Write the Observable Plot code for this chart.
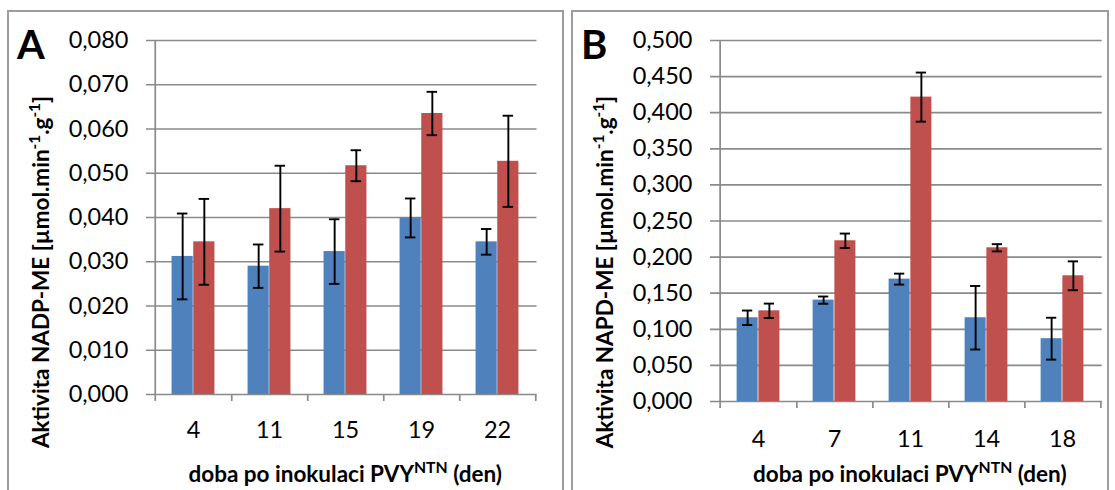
<!DOCTYPE html>
<html>
<head>
<meta charset="utf-8">
<script src="https://cdn.jsdelivr.net/npm/d3@7"></script>
<script src="https://cdn.jsdelivr.net/npm/@observablehq/plot@0.6"></script>
<style>
  body { margin: 0; background: #fff; }
  #wrap { position: relative; width: 1115px; height: 490px; overflow: hidden; font-family: Lato, sans-serif; }
  .panel { position: absolute; top: 10px; height: 600px; border: 2px solid #9c9c9c; box-sizing: border-box; }
  .chart { position: absolute; top: 0; }
</style>
</head>
<body>
<div id="wrap">
  <div class="panel" style="left:7px;width:557px;"></div>
  <div class="panel" style="left:571px;width:538px;"></div>
</div>
<script>
// ---------- DATA ----------
const seriesNames = ["kontrola", "PVY NTN"];
const seriesColors = ["#4F81BD", "#C0504D"];

// Panel A – NADP-ME
const daysA = ["4", "11", "15", "19", "22"];
const controlA = [0.0312, 0.0290, 0.0323, 0.0399, 0.0345];
const controlErrA = [0.0097, 0.0049, 0.0073, 0.0044, 0.0029];
const pvyA = [0.0345, 0.0420, 0.0517, 0.0635, 0.0527];
const pvyErrA = [0.0097, 0.0097, 0.0035, 0.0049, 0.0103];
const yTicksA = [0, 0.01, 0.02, 0.03, 0.04, 0.05, 0.06, 0.07, 0.08];

// Panel B – NAPD-ME
const daysB = ["4", "7", "11", "14", "18"];
const controlB = [0.1160, 0.1404, 0.1695, 0.1160, 0.0870];
const controlErrB = [0.0100, 0.0050, 0.0076, 0.0440, 0.0290];
const pvyB = [0.1256, 0.2226, 0.4216, 0.2129, 0.1741];
const pvyErrB = [0.0100, 0.0100, 0.0340, 0.0050, 0.0200];
const yTicksB = [0, 0.05, 0.1, 0.15, 0.2, 0.25, 0.3, 0.35, 0.4, 0.45, 0.5];

// ---------- CHART ----------
const GRID = "#8a8a8a";
const fmt = d => d.toFixed(3).replace(".", ",");

function panel({days, ctrl, ctrlErr, pvy, pvyErr, yTicks, letter, yTitle, width, marginRight, marginBottom, xPad, left}) {
  const height = 490, marginLeft = 154, marginTop = 40;
  const n = days.length;
  const step = (width - marginLeft - marginRight) / n;
  const frameH = height - marginTop - marginBottom;
  const edge = 0.2165, bw = 0.2835;
  const rows = [];
  days.forEach((d, i) => {
    rows.push({day: d, s: 0, value: ctrl[i], err: ctrlErr[i]});
    rows.push({day: d, s: 1, value: pvy[i], err: pvyErr[i]});
  });
  const insets = [
    {insetLeft: edge * step, insetRight: step - (edge + bw) * step},
    {insetLeft: (edge + bw) * step, insetRight: edge * step}
  ];
  const centers = [(edge + bw / 2) * step, (edge + bw * 1.5) * step];
  const cap = 5.5;
  const marks = [
    Plot.ruleY(yTicks, {stroke: GRID, strokeWidth: 1.7, insetLeft: -8}),
    Plot.ruleX(days.slice(0, 1), {x: d => d, dx: -step / 2, stroke: GRID, strokeWidth: 1.7, insetBottom: -7}),
    Plot.ruleX(days, {x: d => d, dx: step / 2, stroke: GRID, strokeWidth: 1.7, insetTop: frameH, insetBottom: -7})
  ];
  [0, 1].forEach(s => {
    const data = rows.filter(r => r.s === s);
    marks.push(Plot.barY(data, {x: "day", y: "value", fill: seriesColors[s], ...insets[s]}));
  });
  [0, 1].forEach(s => {
    const data = rows.filter(r => r.s === s);
    const c = centers[s];
    marks.push(Plot.ruleX(data, {x: "day", y1: d => d.value - d.err, y2: d => d.value + d.err,
      dx: c - step / 2, stroke: "black", strokeWidth: 1.9}));
    for (const fn of [d => d.value - d.err, d => d.value + d.err]) {
      marks.push(Plot.tickY(data, {x: "day", y: fn, stroke: "black", strokeWidth: 1.9,
        insetLeft: c - cap, insetRight: step - c - cap}));
    }
  });
  marks.push(Plot.axisY(yTicks, {tickSize: 0, tickPadding: 26, tickFormat: fmt, fontSize: 23.5, fill: "black", label: null}));
  marks.push(Plot.axisX({tickSize: 0, tickPadding: xPad, fontSize: 23.5, fill: "black", label: null}));

  const svg = Plot.plot({
    width, height, marginLeft, marginRight, marginTop, marginBottom,
    x: {domain: days, padding: 0, axis: null},
    y: {domain: [0, yTicks[yTicks.length - 1]], axis: null},
    style: {fontFamily: "Lato, sans-serif", fontSize: "22px", color: "black", background: "transparent", overflow: "visible"},
    marks
  });
  svg.classList.add("chart");
  svg.style.left = left + "px";
  const s = d3.select(svg);
  s.append("text").attr("x", 17).attr("y", 59).attr("text-anchor", "start")
    .attr("font-size", 40).attr("font-weight", 700).attr("fill", "black").text(letter);
  const yt = s.append("text").attr("transform", "translate(49,272) rotate(-90)")
    .attr("text-anchor", "middle").attr("font-size", 22.5).attr("font-weight", 700).attr("fill", "black");
  yt.append("tspan").text(yTitle + " [µmol.min");
  yt.append("tspan").attr("baseline-shift", "super").attr("font-size", "68%").text("-1");
  yt.append("tspan").text(".g");
  yt.append("tspan").attr("baseline-shift", "super").attr("font-size", "68%").text("-1");
  yt.append("tspan").text("]");
  const xt = s.append("text").attr("x", marginLeft + (width - marginLeft - marginRight) / 2).attr("y", 482)
    .attr("text-anchor", "middle").attr("font-size", 22.5).attr("font-weight", 700).attr("fill", "black");
  xt.append("tspan").text("doba po inokulaci PVY");
  xt.append("tspan").attr("baseline-shift", "super").attr("font-size", "70%").text("NTN");
  xt.append("tspan").text(" (den)");
  document.getElementById("wrap").appendChild(svg);
}

panel({days: daysA, ctrl: controlA, ctrlErr: controlErrA, pvy: pvyA, pvyErr: pvyErrA, yTicks: yTicksA,
  letter: "A", yTitle: "Aktivita NADP-ME", width: 564, marginRight: 27.5, marginBottom: 96, xPad: 27, left: 0});
panel({days: daysB, ctrl: controlB, ctrlErr: controlErrB, pvy: pvyB, pvyErr: pvyErrB, yTicks: yTicksB,
  letter: "B", yTitle: "Aktivita NAPD-ME", width: 551, marginRight: 13.3, marginBottom: 89, xPad: 29, left: 564});
</script>
</body>
</html>
